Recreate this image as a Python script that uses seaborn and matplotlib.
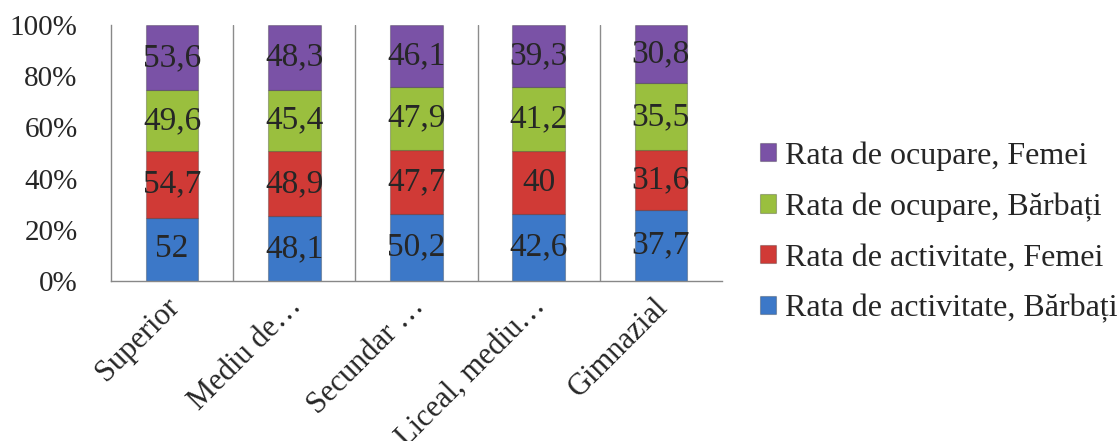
import numpy as np
import pandas as pd
import matplotlib
matplotlib.use("Agg")
import matplotlib.pyplot as plt
import seaborn as sns

# Chart data
categories = ["Superior", "Mediu de…", "Secundar …", "Liceal, mediu…", "Gimnazial"]
act_barbati = [52, 48.1, 50.2, 42.6, 37.7]
act_femei = [54.7, 48.9, 47.7, 40, 31.6]
oc_barbati = [49.6, 45.4, 47.9, 41.2, 35.5]
oc_femei = [53.6, 48.3, 46.1, 39.3, 30.8]

series_names = ["Rata de activitate, Bărbați", "Rata de activitate, Femei",
                "Rata de ocupare, Bărbați", "Rata de ocupare, Femei"]
series_values = [act_barbati, act_femei, oc_barbati, oc_femei]
colors = ["#3c78c8", "#d03a36", "#9abf3e", "#7a52a6"]

sns.set_style("white")
plt.rcParams['font.family'] = ['Liberation Serif', 'DejaVu Serif']

df = pd.DataFrame(dict(zip(series_names, series_values)), index=categories)
pct = df.div(df.sum(axis=1), axis=0) * 100

fig = plt.figure(figsize=(11.19, 4.41), dpi=100)
ax = fig.add_axes([0.0992, 0.363, 0.546, 0.58])

bottom = np.zeros(len(categories))
for name, color in zip(series_names, colors):
    sns.barplot(x=categories, y=pct[name].values, color=color, bottom=bottom,
                width=0.43, saturation=1, ax=ax, label=name,
                edgecolor="#00000040", linewidth=0.8)
    cont = ax.containers[-1]
    ax.bar_label(cont, labels=[f"{v:g}".replace(".", ",") for v in df[name]],
                 label_type="center", fontsize=24)
    bottom = bottom + pct[name].values

ax.set_xlim(-0.5, 4.5)
ax.set_ylim(0, 100)
ax.set_yticks(range(0, 101, 20))
ax.set_yticklabels([f"{v}%" for v in range(0, 101, 20)], fontsize=21)

# category boundaries carry the ticks and the vertical grid lines
ax.set_xticks(np.arange(-0.5, 5, 1))
ax.set_xticklabels([])
# rotated labels sit a little left of the bar centres
ax.set_xticks(np.arange(len(categories)) - 0.06, minor=True)
ax.set_xticklabels(categories, minor=True, rotation=45, ha="right",
                   rotation_mode="anchor", fontsize=22)
ax.tick_params(axis="x", which="minor", length=0, pad=8)
ax.tick_params(axis="x", which="major", length=6, color="#888888", direction="out")
ax.tick_params(axis="y", length=6, color="#888888", direction="out", pad=18)
for xb in np.arange(0.5, 4.5, 1):
    ax.axvline(xb, color="#8c8c8c", linewidth=1, zorder=0)

for s in ["top", "right"]:
    ax.spines[s].set_visible(False)
for s in ["left", "bottom"]:
    ax.spines[s].set_color("#888888")
    ax.spines[s].set_linewidth(1)
ax.set_xlabel("")
ax.set_ylabel("")

handles, labels = ax.get_legend_handles_labels()
ax.legend(handles[::-1], labels[::-1], loc="center left", bbox_to_anchor=(1.015, 0.19),
          frameon=False, fontsize=23, handlelength=0.5, handleheight=0.5,
          handletextpad=0.3, labelspacing=0.68)

plt.savefig("out.png", dpi=100)
